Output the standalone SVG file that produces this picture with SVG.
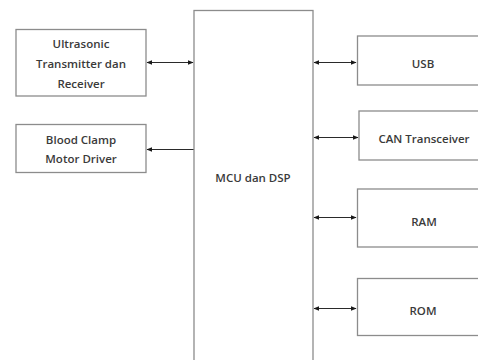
<svg xmlns="http://www.w3.org/2000/svg" width="478" height="360" viewBox="0 0 478 360">
<style>
.box{fill:#fff;stroke:#8c8c8c;stroke-width:1.3}
.t{font-family:"Open Sans","Liberation Sans",sans-serif;font-size:11.5px;font-weight:600;fill:#3a3a3a;text-anchor:middle;dominant-baseline:central}
.c{stroke:#2a2a2a;stroke-width:1.2;fill:none}
</style>
<defs>
<marker id="ah" viewBox="0 0 10 10" refX="9" refY="5" markerWidth="6" markerHeight="6" orient="auto-start-reverse" markerUnits="userSpaceOnUse">
<path d="M0,1 L10,5 L0,9 z" fill="#1a1a1a"/>
</marker>
</defs>
<rect width="478" height="360" fill="#fff"/>
<g id="connectors">
<line class="c" x1="147" y1="62.5" x2="193" y2="62.5" marker-start="url(#ah)" marker-end="url(#ah)"/>
<line class="c" x1="147" y1="149.5" x2="194" y2="149.5" marker-start="url(#ah)"/>
<line class="c" x1="314" y1="62.5" x2="356" y2="62.5" marker-start="url(#ah)" marker-end="url(#ah)"/>
<line class="c" x1="314" y1="137.5" x2="358" y2="137.5" marker-start="url(#ah)" marker-end="url(#ah)"/>
<line class="c" x1="314" y1="217.5" x2="356" y2="217.5" marker-start="url(#ah)" marker-end="url(#ah)"/>
<line class="c" x1="314" y1="308.5" x2="356" y2="308.5" marker-start="url(#ah)" marker-end="url(#ah)"/>
</g>
<g id="ultrasonic">
<rect class="box" x="16" y="29.5" width="130" height="66.5"/>
<text class="t" x="81" y="43">Ultrasonic</text>
<text class="t" x="81" y="63">Transmitter dan</text>
<text class="t" x="81" y="83">Receiver</text>
</g>
<g id="bloodclamp">
<rect class="box" x="16" y="124.5" width="130" height="48"/>
<text class="t" x="81" y="139">Blood Clamp</text>
<text class="t" x="81" y="158">Motor Driver</text>
</g>
<g id="mcu">
<rect class="box" x="194" y="10.5" width="119" height="360"/>
<text class="t" x="253" y="177">MCU dan DSP</text>
</g>
<g id="usb">
<rect class="box" x="357.5" y="36" width="140" height="49"/>
<text class="t" x="423" y="63">USB</text>
</g>
<g id="can">
<rect class="box" x="359" y="111" width="140" height="49"/>
<text class="t" x="424" y="138">CAN Transceiver</text>
</g>
<g id="ram">
<rect class="box" x="357.5" y="189" width="140" height="58"/>
<text class="t" x="424" y="221">RAM</text>
</g>
<g id="rom">
<rect class="box" x="357.5" y="278.5" width="140" height="57"/>
<text class="t" x="423" y="310">ROM</text>
</g>
</svg>
